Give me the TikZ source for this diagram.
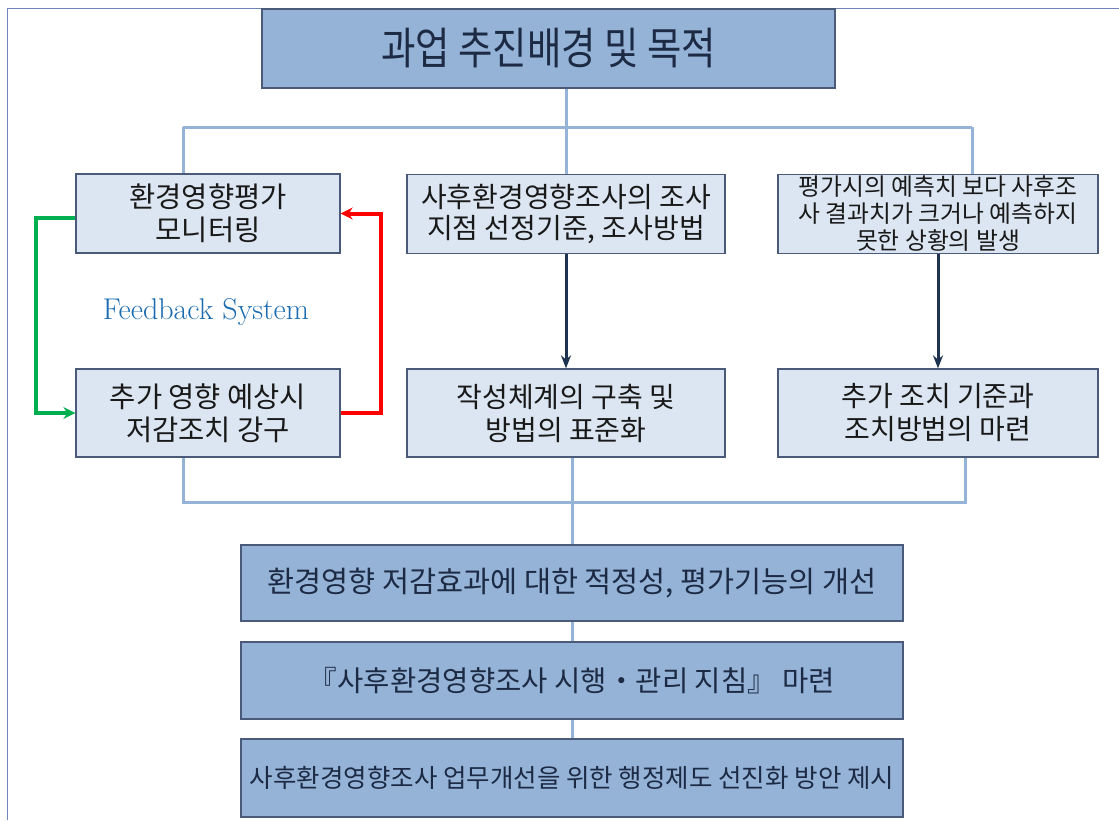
\documentclass[tikz,border=0pt]{standalone}
\usepackage{fontspec}
\usetikzlibrary{arrows.meta}
\newfontfamily\kr{Noto Sans CJK KR}
\newfontfamily\krc[FakeStretch=0.85]{Noto Sans CJK KR}
\definecolor{darkfill}{HTML}{95B3D7}
\definecolor{lightfill}{HTML}{DCE6F2}
\definecolor{boxedge}{HTML}{4A5A78}
\definecolor{linkc}{HTML}{95B3D7}
\definecolor{navy}{HTML}{1F3350}
\definecolor{txt}{HTML}{1C2A44}
\definecolor{fbgreen}{HTML}{00B050}
\definecolor{fbred}{HTML}{FF0000}
\definecolor{fbblue}{HTML}{1A6BB0}
\definecolor{framec}{HTML}{6F86B8}
\begin{document}
\begin{tikzpicture}[x=1pt,y=-1pt,
  darkbox/.style={draw=boxedge, line width=1.8pt, fill=darkfill, inner sep=0pt, align=center, text=txt},
  lightbox/.style={draw=boxedge, line width=1.3pt, fill=lightfill, inner sep=0pt, align=center, text=black!90},
  link/.style={draw=linkc, line width=3pt},
  arr/.style={draw=navy, line width=3pt, -{Stealth[length=13pt,width=10pt]}},
  fb/.style={line width=4pt, -{Stealth[length=12pt,width=12pt]}}]
\useasboundingbox (0,0) rectangle (1119,820);
\draw[framec, line width=1pt] (7,820) -- (7,8) -- (1119,8);

% top
\node[darkbox, minimum width=573pt, minimum height=79pt, font={\krc\fontsize{44}{50}\selectfont}] (top) at (548.5,48.5)
  {과업 추진배경 및 목적};

% left column
\node[lightbox, minimum width=264pt, minimum height=79pt, font={\kr\fontsize{28.5}{33}\selectfont}] (l1) at (208,213.5)
  {환경영향평가\\모니터링};
\node[lightbox, minimum width=264pt, minimum height=88pt, font={\kr\fontsize{28.5}{33}\selectfont}] (l2) at (208,413)
  {추가 영향 예상시\\저감조치 강구};
% middle column
\node[lightbox, minimum width=318pt, minimum height=79pt, font={\kr\fontsize{28}{31}\selectfont}] (m1) at (566,214)
  {사후환경영향조사의 조사\\지점 선정기준, 조사방법};
\node[lightbox, minimum width=318pt, minimum height=88pt, font={\kr\fontsize{28}{33}\selectfont}] (m2) at (566,413)
  {작성체계의 구축 및\\방법의 표준화};
% right column
\node[lightbox, minimum width=320pt, minimum height=79pt, font={\kr\fontsize{23.8}{27}\selectfont}] (r1) at (938,214)
  {평가시의 예측치 보다 사후조\\사 결과치가 크거나 예측하지\\못한 상황의 발생};
\node[lightbox, minimum width=320pt, minimum height=88pt, font={\kr\fontsize{28}{33}\selectfont}] (r2) at (938,413)
  {추가 조치 기준과\\조치방법의 마련};

\node[text=fbblue, font=\fontsize{30}{34}\selectfont] (fbt) at (206,312) {Feedback System};

% bottom
\node[darkbox, minimum width=662pt, minimum height=76pt, font={\kr\fontsize{29.4}{34}\selectfont}] (b1) at (572,583)
  {환경영향 저감효과에 대한 적정성, 평가기능의 개선};
\node[darkbox, minimum width=662pt, minimum height=77pt, font={\kr\fontsize{28.6}{34}\selectfont}] (b2) at (572,680.5)
  {『사후환경영향조사 시행・관리 지침』 마련};
\node[darkbox, minimum width=662pt, minimum height=78pt, font={\kr\fontsize{25.5}{30}\selectfont}] (b3) at (572,778)
  {사후환경영향조사 업무개선을 위한 행정제도 선진화 방안 제시};

% top connectors
\coordinate (ja) at (183,127);
\coordinate (jb) at (972,127);
\draw[link] (top.south -| m1.north) -- (m1.north);
\draw[link] (ja) -- (jb);
\draw[link] (ja) -- (ja |- l1.north);
\draw[link] (jb) -- (jb |- r1.north);

% down arrows
\draw[arr] (m1.south) -- (m2.north);
\draw[arr] (r1.south) -- (r2.north);

% feedback loop
\coordinate (gx) at (36,0);
\coordinate (rx) at (381,0);
\draw[fb, fbgreen] ([yshift=-4.5pt]l1.west) -| (gx |- l2.west) -- (l2.west);
\draw[fb, fbred] (l2.east) -| (rx |- l1.east) -- (l1.east);

% bottom connectors
\coordinate (ka) at (183,502);
\coordinate (kb) at (965,502);
\draw[link] (ka |- l2.south) -- (ka) -- (kb) -- (kb |- r2.south);
\draw[link] (b1.north |- m2.south) -- (b1.north);
\draw[link] (b1.south) -- (b2.north);
\draw[link] (b2.south) -- (b3.north);
\end{tikzpicture}
\end{document}
